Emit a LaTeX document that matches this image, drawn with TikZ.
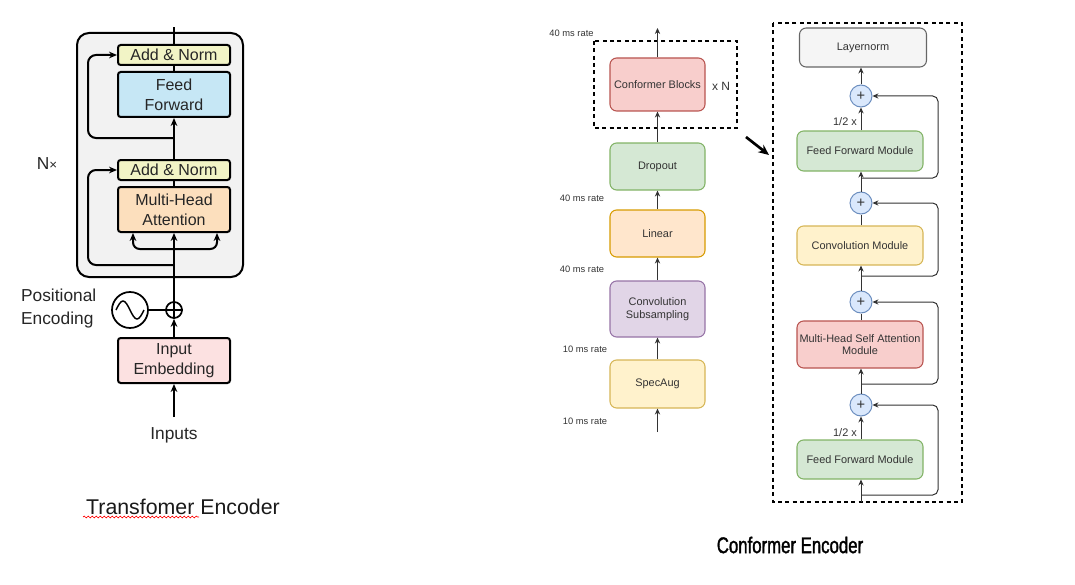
\documentclass[tikz,border=0pt]{standalone}
\usepackage{fontspec}
\setmainfont{Liberation Sans}
\newfontfamily\condfont[FakeStretch=0.74,FakeBold=1.5]{Liberation Sans}
\usetikzlibrary{arrows.meta,calc,decorations.pathmorphing}
\definecolor{boxgray}{HTML}{F2F2F2}
\definecolor{anfill}{HTML}{F2F4C6}
\definecolor{fffill}{HTML}{C6E7F5}
\definecolor{mhfill}{HTML}{FCDFBD}
\definecolor{emfill}{HTML}{FCE1E1}
\definecolor{textgray}{HTML}{333333}
\definecolor{linegray}{HTML}{333333}
\definecolor{cbred}{HTML}{F8CECC}\definecolor{cbredd}{HTML}{B85450}
\definecolor{cbgreen}{HTML}{D5E8D4}\definecolor{cbgreend}{HTML}{82B366}
\definecolor{cborange}{HTML}{FFE6CC}\definecolor{cborangd}{HTML}{D79B00}
\definecolor{cbpurple}{HTML}{E1D5E7}\definecolor{cbpurpd}{HTML}{9673A6}
\definecolor{cbyellow}{HTML}{FFF2CC}\definecolor{cbyellowd}{HTML}{D6B656}
\definecolor{cbgray}{HTML}{F5F5F5}\definecolor{cbgrayd}{HTML}{666666}
\definecolor{pblue}{HTML}{DAE8FC}\definecolor{pblued}{HTML}{6C8EBF}
\begin{document}
\begin{tikzpicture}[x=0.75pt,y=-0.75pt,
  sz/.style 2 args={minimum width=#1*0.75pt, minimum height=#2*0.75pt},
  tbox/.style={draw=black, line width=1.5pt, rounded corners=2pt, font=\fontsize{12}{15}\selectfont, align=center, inner sep=0pt, text=black!85},
  tline/.style={line width=1.5pt},
  tarrow/.style={line width=1.5pt, -{Stealth[length=6pt,width=5pt]}},
  lab/.style={font=\fontsize{13}{17}\selectfont, text=black!85},
  cbox/.style 2 args={fill=#1, draw=#2, line width=0.8pt, rounded corners=5pt, font=\fontsize{8.2}{10}\selectfont, text=textgray, align=center, inner sep=0pt},
  cline/.style={draw=linegray, line width=0.75pt},
  carrow/.style={draw=linegray, line width=0.75pt, -{Stealth[length=4.5pt,width=4pt]}},
  pluscirc/.style={circle, fill=pblue, draw=pblued, line width=0.75pt, minimum size=16.5pt, inner sep=0pt, font=\fontsize{11}{11}\selectfont, text=textgray},
  dbox/.style={draw=black, line width=1.3pt, dash pattern=on 3pt off 2.5pt},
  rate/.style={font=\fontsize{7}{8}\selectfont, text=textgray},
]
\useasboundingbox (0,0) rectangle (1075,585);

% ---------------- Transformer encoder ----------------
\node[draw, line width=1.5pt, rounded corners=9pt, fill=boxgray, sz={166}{244}] (outer) at (160,155) {};
\node[tbox, sz={112}{20}, fill=anfill] (an1) at (174,55) {Add \& Norm};
\node[tbox, sz={112}{45}, fill=fffill] (ff) at (174,94.5) {Feed\\Forward};
\node[tbox, sz={112}{20}, fill=anfill] (an2) at (174,170) {Add \& Norm};
\node[tbox, sz={112}{45}, fill=mhfill] (mha) at (174,209.5) {Multi-Head\\Attention};
\node[tbox, sz={112}{45}, fill=emfill] (emb) at (174,360.5) {Input\\Embedding};
\node[circle, draw, line width=1.3pt, fill=white, minimum size=12pt, inner sep=0pt] (pl) at (174,310) {};
\draw[line width=1.2pt] (pl.north) -- (pl.south) (pl.west) -- (pl.east);
\node[circle, draw, line width=1.3pt, minimum size=27pt, inner sep=0pt] (pe) at (130,310) {};
\draw[line width=1.1pt] (116,310) sin (123,301) cos (130,310) sin (137,319) cos (144,310);

\coordinate (top) at (174,27);
\draw[tline] (an1.north) -- (top);
\draw[tline] (ff.north) -- (an1.south);
\draw[tarrow] (an2.north) -- (ff.south);
\draw[tline] (mha.north) -- (an2.south);
\draw[tarrow] (pl.north) -- (mha.south);
\draw[tarrow] (emb.north) -- (pl.south);
\draw[tline] (pe.east) -- (pl.west);
\coordinate (inp) at (174,417);
\draw[tarrow] (inp) -- (emb.south);

\coordinate (r1) at (174,138); \coordinate (r1l) at (88,138);
\draw[tarrow, rounded corners=6pt] (r1) -- (r1l) |- (an1.west);
\coordinate (r2) at (174,265); \coordinate (r2l) at (88,265);
\draw[tarrow, rounded corners=6pt] (r2) -- (r2l) |- (an2.west);
\coordinate (br) at (174,249);
\draw[tarrow, rounded corners=5pt] (br) -| ($(mha.south)+(-41,0)$);
\draw[tarrow, rounded corners=5pt] (br) -| ($(mha.south)+(43,0)$);

\node[lab] (nx) at (47,164) {N{\fontsize{10}{10}\selectfont ×}};
\node[lab, anchor=east, align=left] (pos) at (101,308.5) {Positional\\Encoding};
\node[lab] (inputs) at (174,435) {Inputs};
\node[font=\fontsize{16}{16}\selectfont, text=black!90] (tt) at (183,507) {Transfomer Encoder};
\draw[red, line width=0.5pt, decorate, decoration={snake, amplitude=0.7pt, segment length=3pt}] (83,517) -- (199,517);

% ---------------- Conformer encoder: overview ----------------
\draw[dbox] (594,41) rectangle (737,128);
\node[cbox={cbred}{cbredd}, sz={95}{53}] (cb) at (657.5,84.5) {Conformer Blocks};
\node[cbox={cbgreen}{cbgreend}, sz={95}{47}] (drop) at (657.5,166.5) {Dropout};
\node[cbox={cborange}{cborangd}, sz={95}{47}] (lin) at (657.5,233.5) {Linear};
\node[cbox={cbpurple}{cbpurpd}, sz={95}{56}] (conv) at (657.5,309) {Convolution\\Subsampling};
\node[cbox={cbyellow}{cbyellowd}, sz={95}{48}] (spec) at (657.5,384) {SpecAug};
\node[font=\fontsize{9}{10}\selectfont, text=textgray] (xn) at (721,86) {x N};

\coordinate (ctop) at (657.5,28);
\coordinate (cbot) at (657.5,432);
\draw[carrow] (cb.north) -- (ctop);
\draw[carrow] (drop.north) -- (cb.south);
\draw[carrow] (lin.north) -- (drop.south);
\draw[carrow] (conv.north) -- (lin.south);
\draw[carrow] (spec.north) -- (conv.south);
\draw[carrow] (cbot) -- (spec.south);

\node[rate] (rt1) at (571.5,33) {40 ms rate};
\node[rate] (rt2) at (582,198) {40 ms rate};
\node[rate] (rt3) at (582,269) {40 ms rate};
\node[rate] (rt4) at (585,349) {10 ms rate};
\node[rate] (rt5) at (585,421) {10 ms rate};

\coordinate (ba) at (746,137); \coordinate (bb) at (769,155);
\draw[line width=2pt, -{Stealth[length=8pt,width=7pt]}] (ba) -- (bb);

% ---------------- Conformer block detail ----------------
\draw[dbox] (773,23) rectangle (962,502);
\node[cbox={cbgray}{cbgrayd}, sz={127}{39}] (ln) at (863,47.5) {Layernorm};
\node[pluscirc] (c1) at (861,96) {+};
\node[cbox={cbgreen}{cbgreend}, sz={126}{40}] (ff1) at (860,151) {Feed Forward Module};
\node[pluscirc] (c2) at (861,203) {+};
\node[cbox={cbyellow}{cbyellowd}, sz={126}{39}] (cm) at (860,245.5) {Convolution Module};
\node[pluscirc] (c3) at (861,302) {+};
\node[cbox={cbred}{cbredd}, sz={126}{47}, font=\fontsize{8.2}{9.5}\selectfont] (mh) at (860,344.5) {Multi-Head Self Attention\\Module};
\node[pluscirc] (c4) at (861,405) {+};
\node[cbox={cbgreen}{cbgreend}, sz={126}{39}] (ff2) at (860,459.5) {Feed Forward Module};

\node[font=\fontsize{8.2}{10}\selectfont, text=textgray] (h1) at (845,122) {1/2 x};
\node[font=\fontsize{8.2}{10}\selectfont, text=textgray] (h2) at (845,433) {1/2 x};

\coordinate (fin) at (861,502);
\draw[carrow] (fin) -- (ff2.south -| fin);
\draw[carrow] (ff2.north -| c4) -- (c4.south);
\draw[carrow] (c4.north) -- (mh.south -| c4);
\draw[cline] (mh.north -| c3) -- (c3.south);
\draw[carrow] (c3.north) -- (cm.south -| c3);
\draw[cline] (cm.north -| c2) -- (c2.south);
\draw[carrow] (c2.north) -- (ff1.south -| c2);
\draw[carrow] (ff1.north -| c1) -- (c1.south);
\draw[carrow] (c1.north) -- (ln.south -| c1);

\coordinate (t1) at (861,178); \coordinate (q1) at (938,178);
\coordinate (t2) at (861,276); \coordinate (q2) at (938,276);
\coordinate (t3) at (861,384); \coordinate (q3) at (938,384);
\coordinate (t4) at (861,495); \coordinate (q4) at (938,495);
\draw[carrow, rounded corners=4pt] (t1) -- (q1) |- (c1.east);
\draw[carrow, rounded corners=4pt] (t2) -- (q2) |- (c2.east);
\draw[carrow, rounded corners=4pt] (t3) -- (q3) |- (c3.east);
\draw[carrow, rounded corners=4pt] (t4) -- (q4) |- (c4.east);

\node[font=\condfont\fontsize{17}{17}\selectfont, text=black] (ct) at (790,545) {Conformer Encoder};
\end{tikzpicture}
\end{document}
